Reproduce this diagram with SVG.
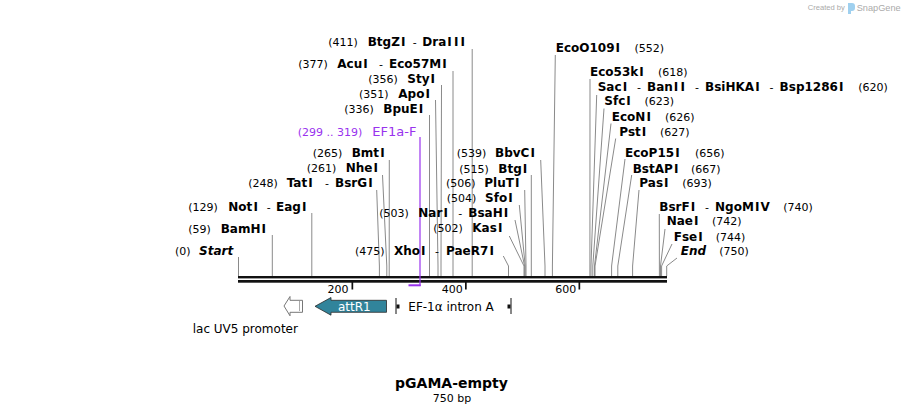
<svg xmlns="http://www.w3.org/2000/svg" width="905" height="415" viewBox="0 0 905 415">
<style>
text{font-family:"DejaVu Sans",Verdana,sans-serif;fill:#000}
.n{font-size:11px}
.b{font-size:12px;font-weight:bold}
.bi{font-size:12px;font-weight:bold;font-style:italic}
.p{fill:#9933ee}
.c polyline{stroke:#8a8a8a;stroke-width:1;fill:none}
.f{font-size:12px}
.wm{font-family:"Liberation Sans",Arial,sans-serif;fill:#aaaaaa}
</style>
<rect width="905" height="415" fill="#fff"/>
<g id="watermark">
<text class="wm" x="807.7" y="10" font-size="7.6">Created by</text>
<path d="M848,3 h4 a3,3 0 0 1 3,3 v2 a3,3 0 0 1 -3,3 h-1 v3 h-3 z" fill="#9fd0ef"/>
<text class="wm" x="856.7" y="10.5" font-size="9.2" fill="#999">SnapGene</text>
</g>
<g class="c" id="connectors">
<polyline points="472.2,49 472.2,276"/>
<polyline points="453,71 453,276"/>
<polyline points="441.5,85 441,266 441,276"/>
<polyline points="435.5,100 438,266 438,276"/>
<polyline points="429.5,115 429.5,276"/>
<polyline points="389.3,160 389.2,276"/>
<polyline points="382.5,175 386.8,266 386.8,276"/>
<polyline points="376.7,190 379.4,266 379.4,276"/>
<polyline points="311.8,213 311.8,276"/>
<polyline points="272.3,235 272.3,276"/>
<polyline points="238.5,257 238.5,276"/>
<polyline points="503.3,256 508.5,266 508.5,276"/>
<polyline points="540.7,160 545,266 545,276"/>
<polyline points="531.3,175 531.3,276"/>
<polyline points="524.7,190 526,266 526,276"/>
<polyline points="519.3,205 525.2,266 525.2,276"/>
<polyline points="515,220 524.6,266 524.6,276"/>
<polyline points="509.3,236 524,266 524,276"/>
<polyline points="555.3,55 552.4,266 552.4,276"/>
<polyline points="590,79 589.9,276"/>
<polyline points="596.7,95 591,266 591,276"/>
<polyline points="604,108.5 592.8,266 592.8,276"/>
<polyline points="611,123.5 594.5,266 594.5,276"/>
<polyline points="615.7,138.5 595,266 595,276"/>
<polyline points="625,159 611.6,266 611.6,276"/>
<polyline points="631.7,175 617.8,266 617.8,276"/>
<polyline points="639,190 632.6,266 632.6,276"/>
<polyline points="659.3,214 659.4,276"/>
<polyline points="665,229 660.5,266 660.5,276"/>
<polyline points="672,244 661.6,266 661.6,276"/>
<polyline points="677,258 666.7,266 666.7,276"/>
</g>
<g id="backbone">
<rect x="238" y="276" width="429" height="2.4" fill="#111"/>
<rect x="238" y="280" width="429" height="2.7" fill="#111"/>
<rect x="351.5" y="282" width="1.7" height="7.5" fill="#111"/>
<rect x="465" y="282" width="1.7" height="7.5" fill="#111"/>
<rect x="578.5" y="282" width="1.7" height="7.5" fill="#111"/>
<text class="n" x="348.5" y="292.5" text-anchor="end">200</text>
<text class="n" x="462.7" y="292.5" text-anchor="end">400</text>
<text class="n" x="576.3" y="292.5" text-anchor="end">600</text>
</g>
<g id="primer-EF1a-F">
<line x1="420" y1="137" x2="420" y2="286" stroke="#9933ee" stroke-width="1.2"/>
<rect x="408.5" y="284.3" width="12.2" height="2" fill="#9933ee"/>
<text class="n p" x="297.7" y="136">(299 .. 319)</text>
<text class="p" x="372.3" y="136" font-size="13">EF1a-F</text>
</g>
<g id="site-BtgZI"><text y="46"><tspan class="n" x="328.3">(411)</tspan><tspan class="b" x="367.7" dx="0 0 0 0 1.05">BtgZI</tspan><tspan class="n" x="412.7">-</tspan><tspan class="b" x="422.3" dx="0 0 0 1.05 2.1 2.1">DraIII</tspan></text></g>
<g id="site-AcuI"><text y="67.5"><tspan class="n" x="298.3">(377)</tspan><tspan class="b" x="337.3" dx="0 0 0 1.05">AcuI</tspan><tspan class="n" x="379">-</tspan><tspan class="b" x="389" dx="0 0 0 0 0 0 1.05">Eco57MI</tspan></text></g>
<g id="site-StyI"><text y="82.7"><tspan class="n" x="368.3">(356)</tspan><tspan class="b" x="407.3" dx="0 0 0 1.05">StyI</tspan></text></g>
<g id="site-ApoI"><text y="97.7"><tspan class="n" x="359">(351)</tspan><tspan class="b" x="398.3" dx="0 0 0 1.05">ApoI</tspan></text></g>
<g id="site-BpuEI"><text y="112.7"><tspan class="n" x="344.3">(336)</tspan><tspan class="b" x="383.3" dx="0 0 0 0 1.05">BpuEI</tspan></text></g>
<g id="site-BmtI"><text y="157.3"><tspan class="n" x="312.7">(265)</tspan><tspan class="b" x="351.7" dx="0 0 0 1.05">BmtI</tspan></text></g>
<g id="site-NheI"><text y="172.3"><tspan class="n" x="306.7">(261)</tspan><tspan class="b" x="345.7" dx="0 0 0 1.05">NheI</tspan></text></g>
<g id="site-TatI"><text y="187.3"><tspan class="n" x="248.3">(248)</tspan><tspan class="b" x="286.7" dx="0 0 0 1.05">TatI</tspan><tspan class="n" x="325">-</tspan><tspan class="b" x="335" dx="0 0 0 0 1.05">BsrGI</tspan></text></g>
<g id="site-NotI"><text y="210.7"><tspan class="n" x="188.3">(129)</tspan><tspan class="b" x="228.3" dx="0 0 0 1.05">NotI</tspan><tspan class="n" x="266.7">-</tspan><tspan class="b" x="276" dx="0 0 0 1.05">EagI</tspan></text></g>
<g id="site-BamHI"><text y="232.7"><tspan class="n" x="188.3">(59)</tspan><tspan class="b" x="220.7" dx="0 0 0 0 1.05">BamHI</tspan></text></g>
<g id="site-Start"><text y="255"><tspan class="n" x="175">(0)</tspan><tspan class="bi" x="199">Start</tspan></text></g>
<g id="site-XhoI"><text y="255"><tspan class="n" x="355">(475)</tspan><tspan class="b" x="394" dx="0 0 0 1.05">XhoI</tspan><tspan class="n" x="435">-</tspan><tspan class="b" x="446" dx="0 0 0 0 0 1.05">PaeR7I</tspan></text></g>
<g id="site-BbvCI"><text y="157.3"><tspan class="n" x="456.7">(539)</tspan><tspan class="b" x="495" dx="0 0 0 0 1.05">BbvCI</tspan></text></g>
<g id="site-BtgI"><text y="172.5"><tspan class="n" x="459.3">(515)</tspan><tspan class="b" x="498.3" dx="0 0 0 1.05">BtgI</tspan></text></g>
<g id="site-PluTI"><text y="187.3"><tspan class="n" x="446">(506)</tspan><tspan class="b" x="484.3" dx="0 0 0 0 1.05">PluTI</tspan></text></g>
<g id="site-SfoI"><text y="202.3"><tspan class="n" x="446.7">(504)</tspan><tspan class="b" x="485" dx="0 0 0 1.05">SfoI</tspan></text></g>
<g id="site-NarI"><text y="217"><tspan class="n" x="379.3">(503)</tspan><tspan class="b" x="418.3" dx="0 0 0 1.05">NarI</tspan><tspan class="n" x="458.3">-</tspan><tspan class="b" x="468.3" dx="0 0 0 0 1.05">BsaHI</tspan></text></g>
<g id="site-KasI"><text y="232.3"><tspan class="n" x="433.3">(502)</tspan><tspan class="b" x="472.3" dx="0 0 0 1.05">KasI</tspan></text></g>
<g id="site-EcoO109I"><text y="51.7"><tspan class="b" x="555.7" dx="0 0 0 0 0 0 0 1.05">EcoO109I</tspan><tspan class="n" x="634.5">(552)</tspan></text></g>
<g id="site-Eco53kI"><text y="75.7"><tspan class="b" x="590" dx="0 0 0 0 0 0 1.05">Eco53kI</tspan><tspan class="n" x="658">(618)</tspan></text></g>
<g id="site-SacI"><text y="90.7"><tspan class="b" x="597.7" dx="0 0 0 1.05">SacI</tspan><tspan class="n" x="637">-</tspan><tspan class="b" x="647" dx="0 0 0 1.05 2.1">BanII</tspan><tspan class="n" x="695">-</tspan><tspan class="b" x="705" dx="0 0 0 0 0 0 1.05">BsiHKAI</tspan><tspan class="n" x="769.6">-</tspan><tspan class="b" x="779.6" dx="0 0 0 0 0 0 0 1.05">Bsp1286I</tspan><tspan class="n" x="858.3">(620)</tspan></text></g>
<g id="site-SfcI"><text y="105.3"><tspan class="b" x="604.3" dx="0 0 0 1.05">SfcI</tspan><tspan class="n" x="644.5">(623)</tspan></text></g>
<g id="site-EcoNI"><text y="120.7"><tspan class="b" x="611.7" dx="0 0 0 0 1.05">EcoNI</tspan><tspan class="n" x="665">(626)</tspan></text></g>
<g id="site-PstI"><text y="136"><tspan class="b" x="619.3" dx="0 0 0 1.05">PstI</tspan><tspan class="n" x="660">(627)</tspan></text></g>
<g id="site-EcoP15I"><text y="157.3"><tspan class="b" x="625" dx="0 0 0 0 0 0 1.05">EcoP15I</tspan><tspan class="n" x="695">(656)</tspan></text></g>
<g id="site-BstAPI"><text y="172.5"><tspan class="b" x="632.7" dx="0 0 0 0 0 1.05">BstAPI</tspan><tspan class="n" x="691">(667)</tspan></text></g>
<g id="site-PasI"><text y="187.3"><tspan class="b" x="639.3" dx="0 0 0 1.05">PasI</tspan><tspan class="n" x="682.3">(693)</tspan></text></g>
<g id="site-BsrFI"><text y="210.7"><tspan class="b" x="659.3" dx="0 0 0 0 1.05">BsrFI</tspan><tspan class="n" x="705">-</tspan><tspan class="b" x="715" dx="0 0 0 0 1.05 1.05">NgoMIV</tspan><tspan class="n" x="783.3">(740)</tspan></text></g>
<g id="site-NaeI"><text y="225.3"><tspan class="b" x="666.7" dx="0 0 0 1.05">NaeI</tspan><tspan class="n" x="712">(742)</tspan></text></g>
<g id="site-FseI"><text y="240.7"><tspan class="b" x="673.7" dx="0 0 0 1.05">FseI</tspan><tspan class="n" x="715.7">(744)</tspan></text></g>
<g id="site-End"><text y="255"><tspan class="bi" x="680.7">End</tspan><tspan class="n" x="719.3">(750)</tspan></text></g>
<g id="feature-lacUV5">
<polygon points="284,306 290,296.5 290,300.3 302.5,300.3 302.5,312.3 290,312.3 290,315.8" fill="#fff" stroke="#777" stroke-width="1"/>
<line x1="299.5" y1="301.5" x2="299.5" y2="311.5" stroke="#555" stroke-width="1" stroke-dasharray="1,1"/>
<text class="f" x="192.7" y="332.7">lac UV5 promoter</text>
</g>
<g id="feature-attR1">
<polygon points="315,306.3 331,297.5 331,300.3 386.5,300.3 386.5,312.3 331,312.3 331,315.2" fill="#31849b" stroke="#2a2a2a" stroke-width="0.8"/>
<text class="f" x="338" y="310.5" style="fill:#fff">attR1</text>
</g>
<g id="feature-EF1a-intronA">
<line x1="396" y1="298" x2="396" y2="314" stroke="#111" stroke-width="1"/>
<rect x="396.5" y="304.5" width="3" height="4" fill="#111"/>
<line x1="511" y1="298" x2="511" y2="314" stroke="#111" stroke-width="1"/>
<rect x="507.5" y="304.5" width="3" height="4" fill="#111"/>
<text class="f" x="408.3" y="311">EF-1α intron A</text>
</g>
<g id="title">
<text x="451.5" y="388" text-anchor="middle" font-size="14" font-weight="bold">pGAMA-empty</text>
<text x="452" y="401.5" text-anchor="middle" class="n">750 bp</text>
</g>
</svg>
